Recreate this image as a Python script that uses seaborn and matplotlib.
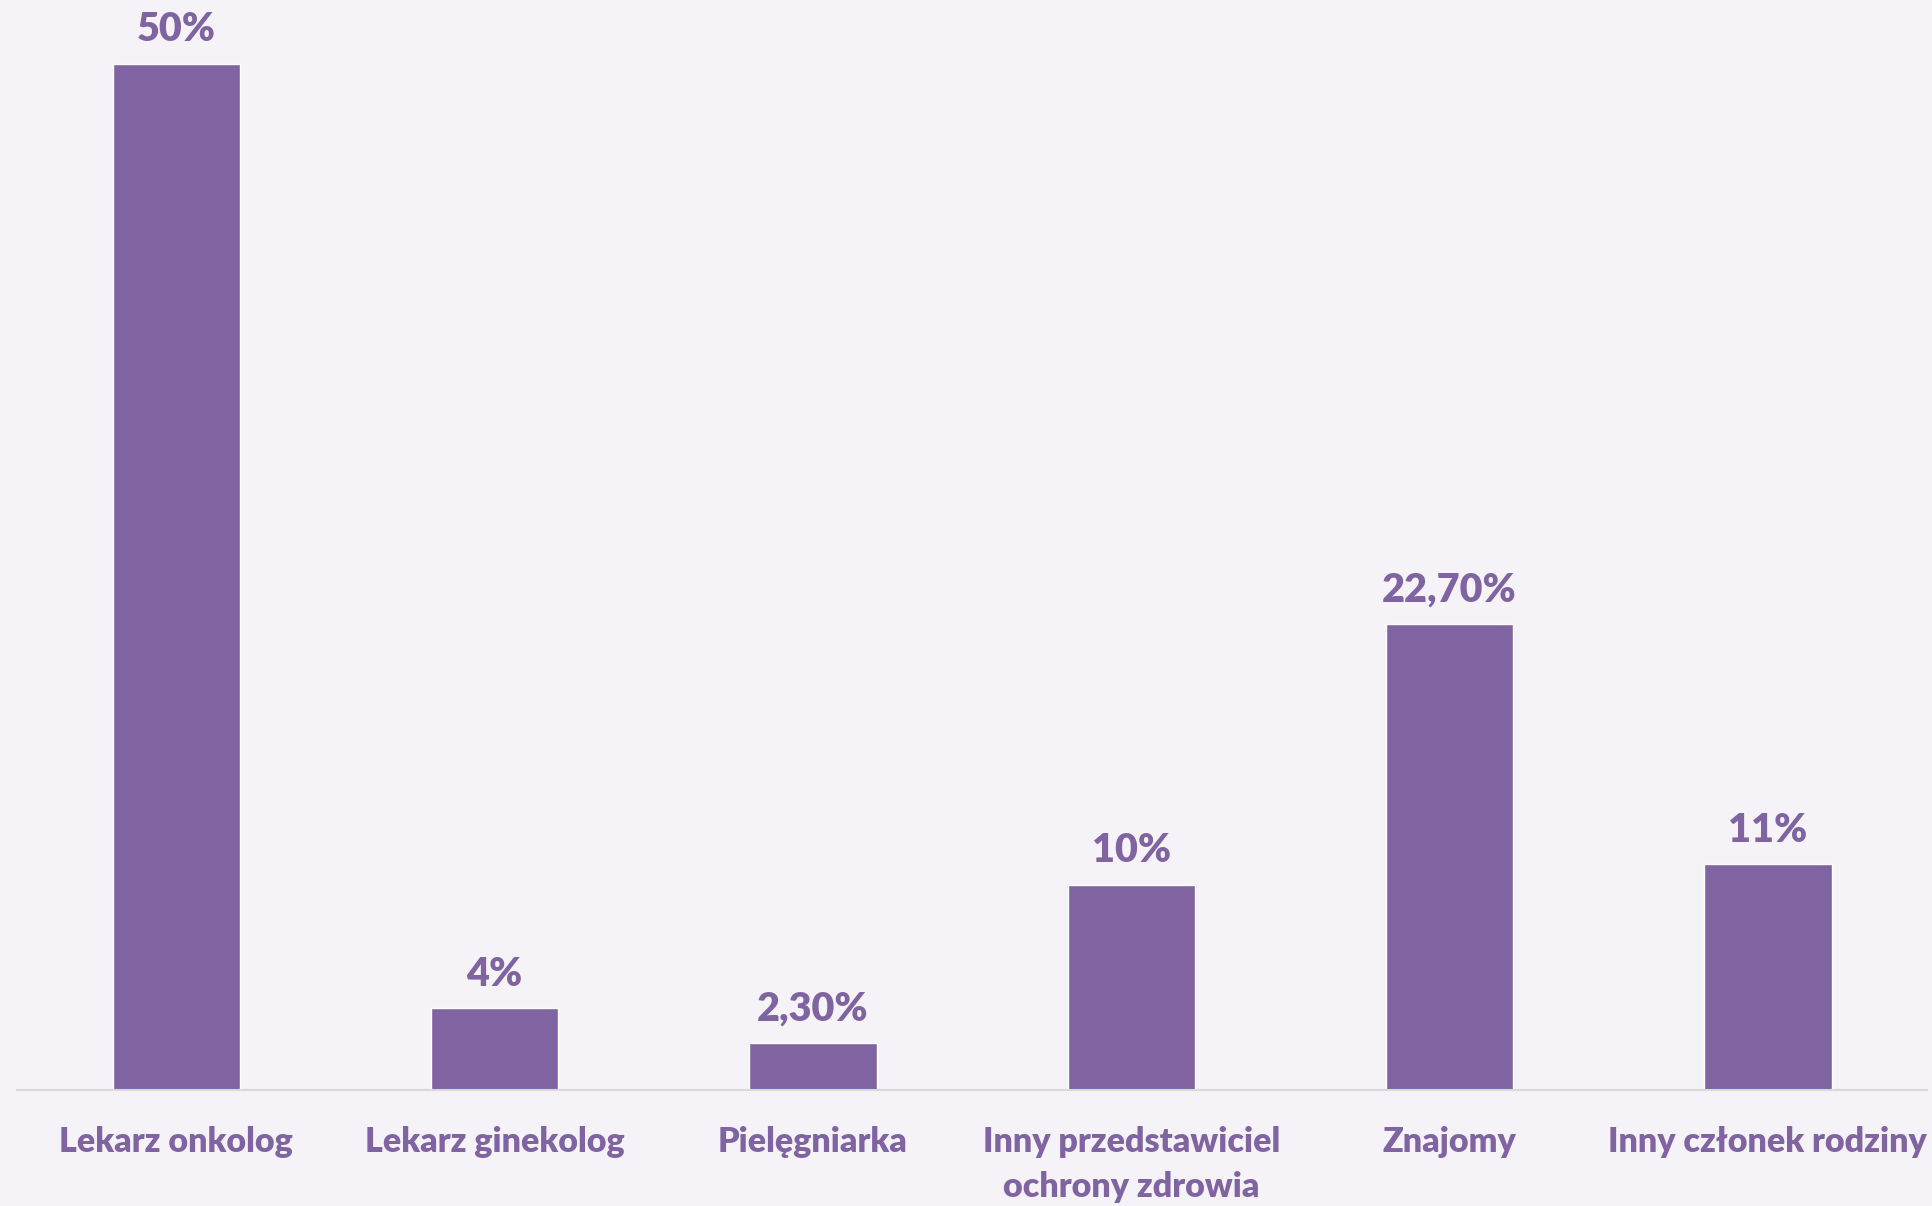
import matplotlib
matplotlib.use("Agg")
import matplotlib.pyplot as plt
import seaborn as sns
import pandas as pd

# Source of information about the illness
categories = [
    "Lekarz onkolog",
    "Lekarz ginekolog",
    "Pielęgniarka",
    "Inny przedstawiciel\nochrony zdrowia",
    "Znajomy",
    "Inny członek rodziny",
]
values = [50, 4, 2.3, 10, 22.7, 11]
value_labels = ["50%", "4%", "2,30%", "10%", "22,70%", "11%"]

BAR = "#8064A2"
BG = "#F5F3F8"

sns.set_theme(style="white")
plt.rcParams["font.family"] = ["Lato", "DejaVu Sans"]

df = pd.DataFrame({"kategoria": categories, "wartosc": values})

fig = plt.figure(figsize=(19.32, 12.06), dpi=100, facecolor=BG)
ax = fig.add_axes([17 / 1932, 116 / 1206, 1910 / 1932, 1090 / 1206])
ax.set_facecolor(BG)

sns.barplot(data=df, x="kategoria", y="wartosc", color=BAR, saturation=1,
            width=0.4, ax=ax)

ax.set_xlim(-0.5, 5.5)
ax.set_ylim(0, 53.1)

for i, (v, lab) in enumerate(zip(values, value_labels)):
    ax.annotate(lab, (i, v), xytext=(0, 11), textcoords="offset points",
                ha="center", va="bottom", fontsize=28.5, fontweight="heavy",
                color=BAR)

ax.set_xlabel("")
ax.set_ylabel("")
ax.set_yticks([])
ax.tick_params(axis="x", length=0, pad=26)
for t in ax.get_xticklabels():
    t.set_fontsize(24.5)
    t.set_fontweight("heavy")
    t.set_color(BAR)
    t.set_linespacing(1.5)
    t.set_verticalalignment("top")

for s in ["top", "left", "right"]:
    ax.spines[s].set_visible(False)
ax.spines["bottom"].set_color("#D9D9D9")
ax.spines["bottom"].set_linewidth(1.5)

fig.savefig("out.png", dpi=100, facecolor=BG)
